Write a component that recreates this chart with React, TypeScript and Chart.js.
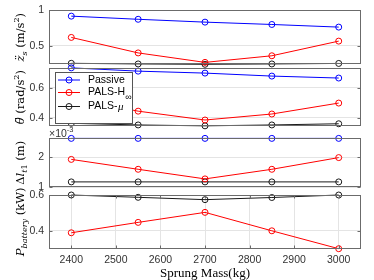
import React, { useEffect, useRef } from "react";
import { Chart, registerables } from "chart.js";
Chart.register(...registerables);

// ---------------- data ----------------
const masses = [2400, 2550, 2700, 2850, 3000];
const xTickValues = [2400, 2500, 2600, 2700, 2800, 2900, 3000];

const accPassive = [0.917, 0.873, 0.833, 0.8, 0.763];
const accHinf = [0.618, 0.4, 0.267, 0.36, 0.566];
const accMu = [0.254, 0.245, 0.24, 0.245, 0.252];

const pitchPassive = [0.733, 0.711, 0.698, 0.678, 0.665];
const pitchHinf = [0.53, 0.444, 0.385, 0.425, 0.498];
const pitchMu = [0.363, 0.352, 0.346, 0.352, 0.36];

// tyre deflection, in units of 1e-3 m
const defPassive = [2.63, 2.63, 2.63, 2.63, 2.63];
const defHinf = [1.93, 1.6, 1.28, 1.6, 1.99];
const defMu = [1.18, 1.18, 1.18, 1.18, 1.18];

const powHinf = [0.389, 0.447, 0.503, 0.4, 0.3];
const powMu = [0.6, 0.587, 0.574, 0.586, 0.6];

const seriesNames = ["Passive", "PALS-H", "PALS-"];

// ---------------- styles / layout ----------------
const BLUE = "#0000ff";
const RED = "#ff0000";
const BLACK = "#1a1a1a";
const FRAME = "#6b6b6b";
const GRID = "#e4e4e4";
const TICKTXT = "#333333";
const SANS = "'Liberation Sans', Arial, sans-serif";
const SERIF = "'Liberation Serif', 'DejaVu Serif', serif";
const YSERIF = "'DejaVu Serif', 'Liberation Serif', serif";
const W = 374;
const H = 280;
const AXIS_W = 49;
const RIGHT_PAD = 13;

type Part = { t: string; it?: boolean; sub?: boolean; sup?: boolean };

const panels = [
  {
    top: 6, bottom: 64.3, min: 0.24, max: 1, yTicks: [0.5, 1],
    data: [accPassive, accHinf, accMu],
    title: [{ t: "z\u0308", it: true }, { t: "s", it: true, sub: true }, { t: " (m/s" }, { t: "2", sup: true }, { t: ")" }] as Part[],
  },
  {
    top: 68.3, bottom: 126, min: 0.345, max: 0.73, yTicks: [0.4, 0.6],
    data: [pitchPassive, pitchHinf, pitchMu], legend: true,
    title: [{ t: "\u03b8\u0308", it: true }, { t: " (rad/s" }, { t: "2", sup: true }, { t: ")" }] as Part[],
  },
  {
    top: 138.3, bottom: 187.3, min: 1, max: 2.633, yTicks: [1, 2],
    data: [defPassive, defHinf, defMu], exponent: true,
    title: [{ t: "\u0394" }, { t: "l", it: true }, { t: "t", it: true, sub: true }, { t: "1", sub: true }, { t: " (m)" }] as Part[],
  },
  {
    top: 195, bottom: 248.7, min: 0.3, max: 0.6, yTicks: [0.4, 0.6],
    data: [null, powHinf, powMu], xAxis: true,
    title: [{ t: "P", it: true }, { t: "battery", it: true, sub: true }, { t: " (kW)" }] as Part[],
  },
];

function drawRich(ctx: CanvasRenderingContext2D, parts: Part[], size: number, family: string) {
  const small = size * 0.7;
  const fontOf = (p: Part) => `${p.it ? "italic " : ""}${p.sub || p.sup ? small : size}px ${family}`;
  let total = 0;
  const widths = parts.map((p) => {
    ctx.font = fontOf(p);
    const w = ctx.measureText(p.t).width;
    total += w;
    return w;
  });
  let x = -total / 2;
  ctx.textBaseline = "alphabetic";
  ctx.textAlign = "left";
  parts.forEach((p, i) => {
    ctx.font = fontOf(p);
    const dy = p.sub ? size * 0.28 : p.sup ? -size * 0.4 : 0;
    ctx.fillText(p.t, x, dy);
    x += widths[i];
  });
}

const decorPlugin = {
  id: "decor",
  afterDraw(chart: any) {
    const cfg = chart.options.plugins.decor;
    if (!cfg) return;
    const { ctx, chartArea: a } = chart;
    const ys = chart.scales.y;
    const xs = chart.scales.x;
    ctx.save();
    // frame
    const l = Math.round(a.left) + 0.5;
    const r = Math.round(a.right) - 0.5;
    const t = Math.round(a.top) + 0.5;
    const b = Math.round(a.bottom) - 0.5;
    ctx.strokeStyle = FRAME;
    ctx.lineWidth = 1;
    ctx.strokeRect(l, t, r - l, b - t);
    ctx.beginPath();
    ys.ticks.forEach((tk: any) => {
      const py = Math.round(ys.getPixelForValue(tk.value)) + 0.5;
      ctx.moveTo(l, py); ctx.lineTo(l + 3, py);
      ctx.moveTo(r, py); ctx.lineTo(r - 3, py);
    });
    if (cfg.xAxis) {
      xs.ticks.forEach((tk: any) => {
        const px = Math.round(xs.getPixelForValue(tk.value)) + 0.5;
        ctx.moveTo(px, b); ctx.lineTo(px, b - 3);
        ctx.moveTo(px, t); ctx.lineTo(px, t + 3);
      });
    }
    ctx.stroke();

    // y title
    ctx.fillStyle = "#000";
    ctx.save();
    ctx.translate(24, (a.top + a.bottom) / 2);
    ctx.rotate(-Math.PI / 2);
    drawRich(ctx, cfg.title, 11.5, YSERIF);
    ctx.restore();

    // x title
    if (cfg.xAxis) {
      ctx.save();
      ctx.translate((a.left + a.right) / 2, 277);
      drawRich(ctx, [{ t: "Sprung Mass(kg)" }], 13, SERIF);
      ctx.restore();
    }

    // exponent label
    if (cfg.exponent) {
      ctx.fillStyle = TICKTXT;
      ctx.textAlign = "left";
      ctx.textBaseline = "alphabetic";
      ctx.font = `10.5px ${SANS}`;
      ctx.fillText("\u00d710", a.left, a.top - 1.5);
      const w = ctx.measureText("\u00d710").width;
      ctx.font = `7.5px ${SANS}`;
      ctx.fillText("-3", a.left + w, a.top - 6);
    }

    // legend
    if (cfg.legend) {
      const bx = 55.5, by = 72.5, bw = 77, bh = 51;
      ctx.fillStyle = "#fff";
      ctx.fillRect(bx, by, bw, bh);
      ctx.strokeStyle = "#555";
      ctx.strokeRect(bx, by, bw, bh);
      const rows = [80, 92.5, 106.5];
      const cols = [BLUE, RED, BLACK];
      rows.forEach((yy, i) => {
        ctx.strokeStyle = cols[i];
        ctx.lineWidth = 1;
        ctx.beginPath();
        ctx.moveTo(58, yy); ctx.lineTo(80, yy);
        ctx.stroke();
        ctx.beginPath();
        ctx.arc(69, yy, 3, 0, Math.PI * 2);
        ctx.stroke();
        ctx.fillStyle = "#000";
        ctx.textAlign = "left";
        ctx.textBaseline = "middle";
        ctx.font = `10.5px ${SANS}`;
        ctx.fillText(seriesNames[i], 88, yy);
        const w = ctx.measureText(seriesNames[i]).width;
        if (i === 1) {
          ctx.font = `9px ${SANS}`;
          ctx.fillText("\u221e", 88 + w, yy + 5);
        } else if (i === 2) {
          ctx.font = `italic 11px ${SERIF}`;
          ctx.fillText("\u03bc", 88 + w + 0.5, yy + 1);
        }
      });
    }
    ctx.restore();
  },
};

function Panel({ p }: { p: any }) {
  const ref = useRef<HTMLCanvasElement>(null);
  useEffect(() => {
    const cols = [BLUE, RED, BLACK];
    const datasets: any[] = [];
    p.data.forEach((arr: number[] | null, i: number) => {
      if (!arr) return;
      datasets.push({
        label: seriesNames[i],
        data: masses.map((m, k) => ({ x: m, y: arr[k] })),
        borderColor: cols[i],
        backgroundColor: "rgba(0,0,0,0)",
        borderWidth: 1,
        pointRadius: 3,
        pointBorderWidth: 1,
        pointStyle: "circle",
        tension: 0,
        clip: 5,
      });
    });
    const xAxisH = 20;
    const chart = new Chart(ref.current!, {
      type: "line",
      data: { datasets },
      options: {
        animation: false,
        responsive: false,
        devicePixelRatio: 1,
        layout: {
          padding: {
            left: 0,
            right: RIGHT_PAD,
            top: p.top,
            bottom: p.xAxis ? H - p.bottom - xAxisH : H - p.bottom,
          },
        },
        plugins: { legend: { display: false }, tooltip: { enabled: false }, decor: { title: p.title, legend: !!p.legend, exponent: !!p.exponent, xAxis: !!p.xAxis } } as any,
        scales: {
          x: {
            type: "linear",
            min: 2350,
            max: 3050,
            display: !!p.xAxis,
            afterBuildTicks: (s: any) => { s.ticks = xTickValues.map((v) => ({ value: v })); },
            afterFit: (s: any) => { s.height = p.xAxis ? xAxisH : 0; },
            grid: { color: GRID, drawTicks: false },
            border: { display: false },
            ticks: { color: TICKTXT, padding: 6, font: { family: SANS, size: 10.5, lineHeight: 1 }, maxRotation: 0, callback: (v: any) => String(v) },
          },
          y: {
            type: "linear",
            min: p.min,
            max: p.max,
            afterBuildTicks: (s: any) => { s.ticks = p.yTicks.map((v: number) => ({ value: v })); },
            afterFit: (s: any) => { s.width = AXIS_W; },
            grid: { color: GRID, drawTicks: false },
            border: { display: false },
            ticks: { color: TICKTXT, padding: 5, font: { family: SANS, size: 10.5, lineHeight: 1 }, callback: (v: any) => String(v) },
          },
        },
      },
      plugins: [decorPlugin],
    });
    return () => chart.destroy();
  }, []);
  return (
    <canvas
      ref={ref}
      width={W}
      height={H}
      style={{ position: "absolute", left: 0, top: 0, width: W, height: H }}
    />
  );
}

export default function App() {
  return (
    <div style={{ position: "absolute", left: 0, top: 0, width: W, height: H, background: "#fff", overflow: "hidden" }}>
      {panels.map((p, i) => (
        <Panel key={i} p={p} />
      ))}
    </div>
  );
}
